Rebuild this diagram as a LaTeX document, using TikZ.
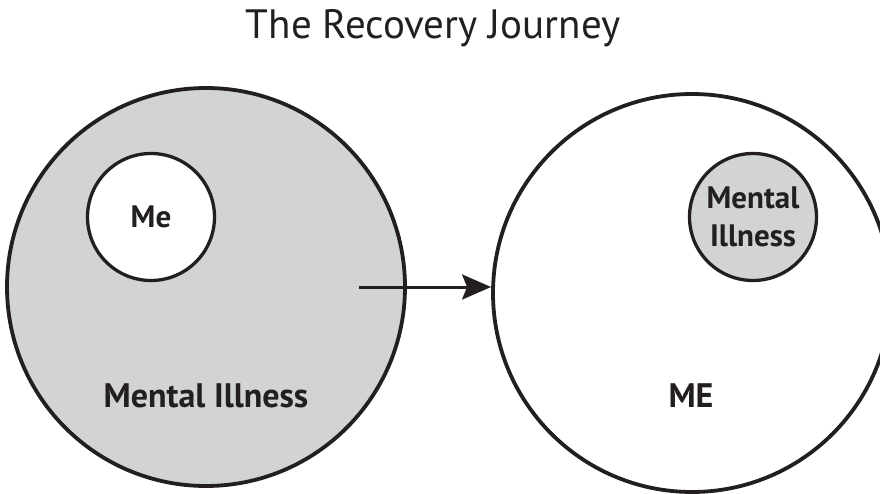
\documentclass[tikz,border=0pt]{standalone}
\usepackage{fontspec}
\setmainfont{PT Sans}
\usetikzlibrary{arrows.meta,positioning}
\definecolor{InkD} {RGB}{35, 31, 32}
\definecolor{GreyF}{RGB}{209,211,212}
\tikzset{
  bigring/.style={circle,draw=InkD,line width=3.8pt,minimum size=398pt,inner sep=0pt},
  smallring/.style={circle,draw=InkD,line width=3.3pt,minimum size=127pt,inner sep=0pt,
    align=center,text=InkD,font=\bfseries\fontsize{31}{38}\selectfont},
  biglabel/.style={anchor=base,text=InkD,font=\bfseries\fontsize{34}{40}\selectfont},
}
\begin{document}
\begin{tikzpicture}[x=1pt,y=-1pt]
        \useasboundingbox (0,0) rectangle (880,494);
        \node[anchor=base,text=InkD,font=\fontsize{41}{48}\selectfont] (title) at (433,39) {The Recovery Journey};
        % before
        \node[bigring,fill=GreyF] (illness) at (206,287) {};
        \node[smallring,fill=white] (me) at (151,217) {Me};
        \node[biglabel] (illnesslbl) at (206,407) {Mental Illness};
        % after
        \node[bigring,fill=white] (self) at (692,293) {};
        \node[smallring,fill=GreyF] (smallillness) at (753,217) {Mental\\Illness};
        \node[biglabel] (selflbl) at (691,407) {ME};
        \coordinate (start) at (359,287);
        \draw[-{Stealth[length=29pt,width=25pt,inset=5pt]},InkD,line width=3pt] (start)--(start -| self.west);
      \end{tikzpicture}
\end{document}
